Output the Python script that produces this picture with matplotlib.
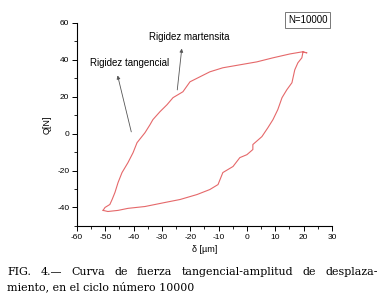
import matplotlib.pyplot as plt
from matplotlib.ticker import MultipleLocator

# Loading branch (bottom-left to top-right)
up_x = [-50.8, -50.1, -48.4, -47.6, -46.6, -45.5, -44.1, -42.0, -40.2, -38.8, -36.0, -34.2,
        -33.2, -30.7, -28.2, -26.1, -22.6, -20.1, -16.6, -13.1, -8.5, -2.5, 3.5, 9.2,
        15.2, 19.4, 21.2, 19.8]
up_y = [-41.6, -40.0, -38.4, -35.7, -31.9, -26.5, -21.1, -15.7, -10.3, -4.9, 0.5, 4.9,
        7.6, 11.9, 15.7, 19.5, 22.7, 28.1, 30.8, 33.5, 35.7, 37.3, 38.9, 41.1,
        43.2, 44.3, 43.8, 44.3]

# Unloading branch (top-right back to bottom-left)
down_x = [19.8, 19.4, 18.0, 16.9, 15.9, 14.1, 12.4, 10.9, 9.2, 7.4, 5.3, 2.1, 2.1, 0.0,
          -2.5, -4.9, -8.5, -10.2, -13.1, -17.6, -23.6, -28.9, -36.0, -42.0, -45.5,
          -49.1, -50.8]
down_y = [44.3, 41.1, 38.4, 34.6, 27.6, 23.8, 19.5, 13.0, 7.6, 3.2, -1.6, -5.9, -8.6, -11.4,
          -13.0, -17.8, -21.1, -27.6, -30.3, -33.0, -35.7, -37.3, -39.5, -40.5, -41.6,
          -42.2, -41.6]

caption_1 = 'FIG. 4.— Curva de fuerza tangencial-amplitud de desplaza-'
caption_2 = 'miento, en el ciclo número 10000'

plt.rcParams['font.family'] = ['Liberation Sans', 'DejaVu Sans']
plt.rcParams['axes.unicode_minus'] = False

fig = plt.figure(figsize=(3.85, 2.98), dpi=100)
ax = fig.add_axes([0.2, 0.242, 0.662, 0.681])

ax.plot(up_x, up_y, color='#e5686a', lw=0.8)
ax.plot(down_x, down_y, color='#e5686a', lw=0.8)

ax.set_xlim(-60, 30)
ax.set_ylim(-50, 60)
ax.xaxis.set_major_locator(MultipleLocator(10))
ax.xaxis.set_minor_locator(MultipleLocator(5))
ax.yaxis.set_major_locator(MultipleLocator(20))
ax.yaxis.set_minor_locator(MultipleLocator(10))
ax.spines['top'].set_visible(False)
ax.spines['right'].set_visible(False)
for s in ['left', 'bottom']:
    ax.spines[s].set_linewidth(0.8)
ax.tick_params(which='major', direction='out', length=3.5, width=0.7, labelsize=6, pad=2)
ax.tick_params(which='minor', direction='out', length=2, width=0.6)

ax.set_xlabel('δ [µm]', fontsize=6.5, labelpad=3)
ax.set_ylabel('Q[N]', fontsize=6.5, labelpad=4)

ax.annotate('', xy=(-45.9, 33), xytext=(-40.6, -0.5),
            arrowprops=dict(arrowstyle='-|>', color='#555555', lw=0.6, mutation_scale=5))
ax.annotate('', xy=(-22.9, 47.6), xytext=(-24.7, 22.2),
            arrowprops=dict(arrowstyle='-|>', color='#555555', lw=0.6, mutation_scale=5))
ax.text(-55.4, 38.4, 'Rigidez tangencial', fontsize=7, va='center')
ax.text(-34.6, 52.4, 'Rigidez martensita', fontsize=7, va='center')
ax.text(21.5, 61.6, 'N=10000', fontsize=7, ha='center', va='center', clip_on=False,
        bbox=dict(boxstyle='square,pad=0.3', fc='white', ec='#777777', lw=0.7))

# caption: first line justified between x0 and x1 (pixels), second line left aligned
x0, x1 = 7, 378
cap_kw = dict(family='DejaVu Serif', fontsize=7.9, va='center')
renderer = fig.canvas.get_renderer()
words = caption_1.split(' ')
texts = [fig.text(0, 0.088, w, **cap_kw) for w in words]
widths = [t.get_window_extent(renderer).width for t in texts]
gap = (x1 - x0 - sum(widths)) / (len(words) - 1)
pos = x0
for t, w in zip(texts, widths):
    t.set_x(pos / fig.bbox.width)
    pos += w + gap
fig.text(x0 / fig.bbox.width, 0.038, caption_2, **cap_kw)

fig.savefig('out.png', dpi=100)
